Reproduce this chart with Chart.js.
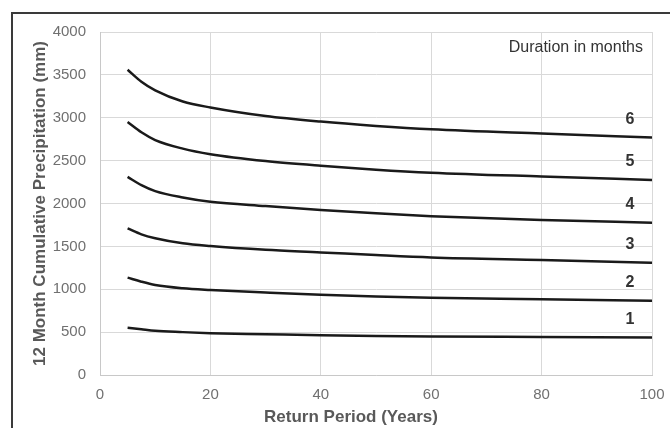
<!DOCTYPE html>
<html>
<head>
<meta charset="utf-8">
<script src="https://cdn.jsdelivr.net/npm/chart.js@4.4.0/dist/chart.umd.min.js"></script>
<style>
  html, body { margin: 0; padding: 0; background: #fff; }
  #wrap { position: relative; width: 670px; height: 428px; overflow: hidden; }
  #frame { position: absolute; left: 11px; top: 12px; width: 700px; height: 460px;
           border-top: 2px solid #3a3a3a; border-left: 2px solid #3a3a3a; }
  #myChart { position: absolute; left: 0; top: 0; }
</style>
</head>
<body>
<div id="wrap">
  <div id="frame"></div>
  <canvas id="myChart" width="670" height="428"></canvas>
</div>
<script>
// Return periods (years)
const returnPeriods = [5, 7.5, 10, 15, 20, 30, 40, 50, 60, 80, 100];

// 12 month cumulative precipitation (mm) by duration in months
const dur1 = [552, 533, 515, 500, 488, 476, 464, 456, 450, 444, 438];
const dur2 = [1135, 1088, 1050, 1012, 992, 962, 935, 915, 900, 884, 866];
const dur3 = [1710, 1640, 1595, 1536, 1504, 1460, 1430, 1398, 1370, 1340, 1310];
const dur4 = [2310, 2215, 2145, 2070, 2020, 1970, 1925, 1885, 1852, 1808, 1776];
const dur5 = [2950, 2830, 2740, 2640, 2575, 2495, 2440, 2395, 2360, 2315, 2275];
const dur6 = [3560, 3420, 3320, 3190, 3120, 3020, 2955, 2905, 2865, 2815, 2770];

const seriesNames = ['1', '2', '3', '4', '5', '6'];
const seriesValues = [dur1, dur2, dur3, dur4, dur5, dur6];

const font = '"Liberation Sans", Arial, sans-serif';

const datasets = seriesValues.map((vals, i) => ({
  label: seriesNames[i],
  data: vals.map((v, j) => ({ x: returnPeriods[j], y: v })),
  borderColor: '#1a1a1a',
  borderWidth: 2.5,
  pointRadius: 0,
  fill: false,
  cubicInterpolationMode: 'monotone'
}));

// draws the duration numbers, the note and the x axis title
const annotations = {
  id: 'annotations',
  afterDatasetsDraw(chart) {
    const { ctx, chartArea, scales } = chart;
    ctx.save();
    ctx.fillStyle = '#333';
    ctx.font = '16px ' + font;
    ctx.textAlign = 'right';
    ctx.textBaseline = 'middle';
    ctx.fillText('Duration in months', chartArea.right - 9, chartArea.top + 16);
    ctx.font = 'bold 16px ' + font;
    ctx.textAlign = 'center';
    seriesValues.forEach((vals, i) => {
      const x = scales.x.getPixelForValue(96);
      const y = scales.y.getPixelForValue(vals[vals.length - 1]) - 18;
      ctx.fillText(seriesNames[i], x, y);
    });
    // x axis title sits a bit left of the plot centre, as in the original
    ctx.fillStyle = '#595959';
    ctx.font = 'bold 17px ' + font;
    ctx.fillText('Return Period (Years)', chart.width / 2 + 16, chart.height - 11);
    ctx.restore();
  }
};

const ctx = document.getElementById('myChart').getContext('2d');
new Chart(ctx, {
  type: 'line',
  data: { datasets },
  plugins: [annotations],
  options: {
    responsive: false,
    animation: false,
    layout: { padding: { left: 24, top: 32, right: 18, bottom: 0 } },
    plugins: { legend: { display: false }, tooltip: { enabled: false } },
    scales: {
      x: {
        type: 'linear',
        min: 0, max: 100,
        afterFit(scale) { scale.height = 53; scale.paddingRight = 0; scale.paddingLeft = 0; },
        ticks: { stepSize: 20, color: '#707070', padding: 11, font: { family: font, size: 15 },
                 callback: v => String(v) },
        grid: { color: '#d9d9d9', drawTicks: false },
        border: { color: '#c8c8c8' }
      },
      y: {
        min: 0, max: 4000,
        afterFit(scale) { scale.width = 76; },
        ticks: { stepSize: 500, color: '#707070', padding: 14, font: { family: font, size: 15 },
                 callback: v => String(v) },
        grid: { color: '#d9d9d9', drawTicks: false },
        border: { color: '#c8c8c8' },
        title: { display: true, text: '12 Month Cumulative Precipitation (mm)', color: '#595959', padding: { top: 6, bottom: 0 },
                 font: { family: font, size: 17, weight: 'bold' } }
      }
    }
  }
});
</script>
</body>
</html>
